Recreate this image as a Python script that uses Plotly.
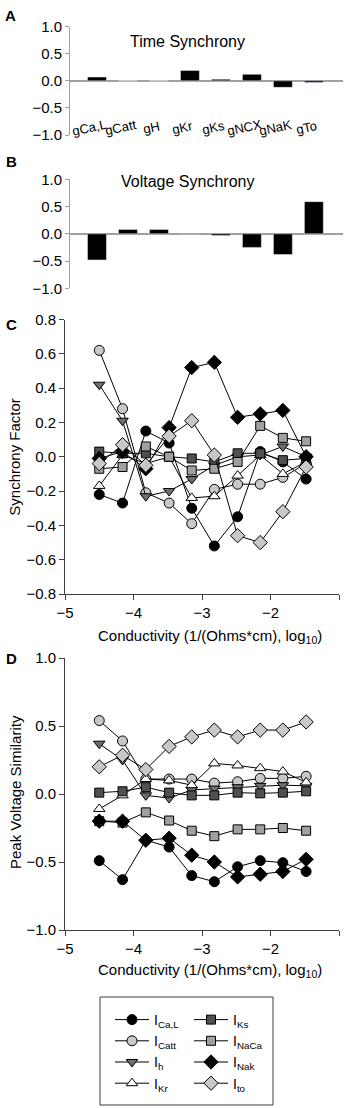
import plotly.graph_objects as go

# ---------------- data ----------------
channels = ["gCa,L", "gCatt", "gH", "gKr", "gKs", "gNCX", "gNaK", "gTo"]
time_sync = [0.07, 0.0, 0.0, 0.19, 0.03, 0.12, -0.12, -0.03]
volt_sync = [-0.48, 0.08, 0.08, 0.01, -0.03, -0.25, -0.38, 0.59]

conductivity = [-4.5, -4.16, -3.82, -3.48, -3.15, -2.82, -2.48, -2.15, -1.82, -1.48]

series_names = ["I<sub>Ca,L</sub>", "I<sub>Catt</sub>", "I<sub>h</sub>", "I<sub>Kr</sub>",
                "I<sub>Ks</sub>", "I<sub>NaCa</sub>", "I<sub>Nak</sub>", "I<sub>to</sub>"]

sync_ICaL = [-0.22, -0.27, 0.15, 0.08, -0.30, -0.52, -0.35, 0.03, -0.03, -0.13]
sync_ICatt = [0.62, 0.28, -0.21, -0.27, -0.39, -0.19, -0.16, -0.16, -0.12, -0.04]
sync_Ih = [0.42, 0.21, -0.23, -0.20, -0.13, -0.05, 0.00, 0.01, 0.06, 0.00]
sync_IKr = [-0.17, 0.01, -0.04, 0.00, -0.24, -0.23, -0.11, 0.01, -0.10, -0.03]
sync_IKs = [0.03, 0.02, 0.02, 0.00, -0.01, -0.03, 0.02, 0.02, -0.02, -0.01]
sync_INaCa = [-0.07, -0.06, 0.06, 0.00, -0.08, -0.07, -0.03, 0.18, 0.11, 0.09]
sync_INak = [-0.01, 0.03, -0.07, 0.17, 0.52, 0.55, 0.23, 0.25, 0.27, 0.00]
sync_Ito = [-0.04, 0.07, -0.05, 0.12, 0.21, 0.01, -0.46, -0.50, -0.32, -0.06]

peak_ICaL = [-0.49, -0.63, -0.34, -0.39, -0.60, -0.645, -0.535, -0.49, -0.505, -0.57]
peak_ICatt = [0.54, 0.39, 0.11, 0.11, 0.11, 0.08, 0.09, 0.115, 0.115, 0.13]
peak_Ih = [0.37, 0.25, -0.01, -0.03, 0.03, 0.04, 0.05, 0.06, 0.065, 0.06]
peak_IKr = [-0.11, -0.01, 0.11, 0.10, 0.065, 0.225, 0.21, 0.19, 0.165, 0.085]
peak_IKs = [0.01, 0.02, 0.05, 0.01, -0.01, -0.01, 0.01, 0.005, 0.01, 0.02]
peak_INaCa = [-0.20, -0.21, -0.135, -0.195, -0.27, -0.31, -0.26, -0.26, -0.25, -0.27]
peak_INak = [-0.20, -0.20, -0.34, -0.325, -0.45, -0.50, -0.61, -0.59, -0.57, -0.48]
peak_Ito = [0.20, 0.285, 0.18, 0.35, 0.42, 0.47, 0.42, 0.47, 0.47, 0.53]

sync_all = [sync_ICaL, sync_ICatt, sync_Ih, sync_IKr, sync_IKs, sync_INaCa, sync_INak, sync_Ito]
peak_all = [peak_ICaL, peak_ICatt, peak_Ih, peak_IKr, peak_IKs, peak_INaCa, peak_INak, peak_Ito]

# ---------------- styles ----------------
styles = [
    dict(symbol="circle", color="#000000", size=10),
    dict(symbol="circle", color="#c8c8c8", size=10),
    dict(symbol="triangle-down", color="#6e6e6e", size=10),
    dict(symbol="triangle-up", color="#ffffff", size=10),
    dict(symbol="square", color="#505050", size=9),
    dict(symbol="square", color="#a0a0a0", size=9),
    dict(symbol="diamond", color="#000000", size=11),
    dict(symbol="diamond", color="#c8c8c8", size=11),
]

W, H = 346, 1108
FONT = "Liberation Sans, Arial, sans-serif"


def xd(a, b):
    return [a / W, b / W]


def yd(top, bottom):
    return [1 - bottom / H, 1 - top / H]


fig = go.Figure()

# Panels A and B bars
fig.add_trace(go.Bar(x=channels, y=time_sync, marker_color="#000000", width=0.61,
                     xaxis="x", yaxis="y", showlegend=False))
fig.add_trace(go.Bar(x=channels, y=volt_sync, marker_color="#000000", width=0.61,
                     xaxis="x2", yaxis="y2", showlegend=False))

# Panels C and D lines
for i, (name, st) in enumerate(zip(series_names, styles)):
    mk = dict(symbol=st["symbol"], color=st["color"], size=st["size"],
              line=dict(color="#000000", width=1))
    fig.add_trace(go.Scatter(x=conductivity, y=sync_all[i], mode="lines+markers",
                             name=name, line=dict(color="#000000", width=1), marker=mk,
                             xaxis="x3", yaxis="y3", showlegend=True,
                             legend="legend" if i < 4 else "legend2"))
    fig.add_trace(go.Scatter(x=conductivity, y=peak_all[i], mode="lines+markers",
                             name=name, line=dict(color="#000000", width=1), marker=mk,
                             xaxis="x4", yaxis="y4", showlegend=False))

bar_y = dict(range=[-1, 1], dtick=0.5, tickformat=".1f", showline=True, linecolor="#a0a0a0",
             linewidth=1, ticks="outside", ticklen=4, tickcolor="#a0a0a0", showgrid=False,
             zeroline=True, zerolinecolor="#a0a0a0", zerolinewidth=1.5,
             tickfont=dict(size=15, color="#000"), automargin=False)
bar_x = dict(type="category", range=[-0.87, 7.94], showticklabels=False, showline=False,
             showgrid=False, zeroline=False, ticks="", automargin=False)

line_x = dict(range=[-5, -1], dtick=1, showline=True, linecolor="#404040", linewidth=1,
              ticks="outside", ticklen=5, tickcolor="#404040", showgrid=False, zeroline=False,
              tickfont=dict(size=15, color="#000"), automargin=False)

leg_common = dict(xanchor="left", yanchor="top", bgcolor="rgba(0,0,0,0)",
                  font=dict(size=14), itemwidth=34, tracegroupgap=0)

fig.update_layout(
    width=W, height=H, margin=dict(l=0, r=0, t=0, b=0, pad=0, autoexpand=False),
    paper_bgcolor="white", plot_bgcolor="white",
    font=dict(family=FONT, size=14, color="#000"),
    bargap=0.3,
    xaxis=dict(bar_x, domain=xd(70, 343), anchor="y"),
    yaxis=dict(bar_y, domain=yd(26.7, 135), anchor="x"),
    xaxis2=dict(bar_x, domain=xd(70, 343), anchor="y2"),
    yaxis2=dict(bar_y, domain=yd(179.3, 288.3), anchor="x2"),
    xaxis3=dict(line_x, domain=xd(65, 339), anchor="y3"),
    yaxis3=dict(range=[-0.8, 0.8], dtick=0.2, tickformat=".1f", showline=True,
                linecolor="#404040", ticks="outside", ticklen=5, tickcolor="#404040",
                showgrid=False, zeroline=False, tickfont=dict(size=15, color="#000"),
                domain=yd(319.5, 594), anchor="x3", automargin=False),
    xaxis4=dict(line_x, domain=xd(65, 339), anchor="y4"),
    yaxis4=dict(range=[-1, 1], dtick=0.5, tickformat=".1f", showline=True,
                linecolor="#404040", ticks="outside", ticklen=5, tickcolor="#404040",
                showgrid=False, zeroline=False, tickfont=dict(size=15, color="#000"),
                domain=yd(658, 930), anchor="x4", automargin=False),
    legend=dict(leg_common, x=110 / W, y=1 - 1004 / H),
    legend2=dict(leg_common, x=189 / W, y=1 - 1004 / H),
)

# Legend frame
fig.add_shape(type="rect", xref="paper", yref="paper",
              x0=100 / W, x1=273 / W, y0=1 - 1105 / H, y1=1 - 997 / H,
              line=dict(color="#404040", width=1), fillcolor="rgba(0,0,0,0)")

ann = []
# Category labels for bar panels
for c in channels:
    ann.append(dict(x=c, y=-0.86, xref="x", yref="y", text=c, showarrow=False,
                    textangle=-12, xshift=-7, font=dict(size=13),
                    xanchor="center", yanchor="middle"))
    ann.append(dict(x=c, y=-1.12, xref="x2", yref="y2", text=c, showarrow=False,
                    textangle=-12, xshift=-7, font=dict(size=13),
                    xanchor="center", yanchor="middle"))


def pann(px, py, text, size, angle=0):
    return dict(x=px / W, y=1 - py / H, xref="paper", yref="paper", text=text,
                showarrow=False, font=dict(size=size), textangle=angle,
                xanchor="center", yanchor="middle")


ann += [
    pann(187, 41.7, "Time Synchrony", 16),
    pann(187, 181, "Voltage Synchrony", 16),
    pann(210, 636, "Conductivity (1/(Ohms*cm), log<sub>10</sub>)", 15),
    pann(210, 970, "Conductivity (1/(Ohms*cm), log<sub>10</sub>)", 15),
    pann(15, 456.7, "Synchrony Factor", 15, -90),
    pann(15, 792, "Peak Voltage Similarity", 15, -90),
]
for letter, px, py in [("A", 10, 16), ("B", 11, 162), ("C", 11, 325), ("D", 11, 658)]:
    ann.append(pann(px, py, "<b>%s</b>" % letter, 15))

fig.update_layout(annotations=ann)

fig.write_html("out.html", config={"displayModeBar": False},
               post_script="document.body.style.margin='0px';")
